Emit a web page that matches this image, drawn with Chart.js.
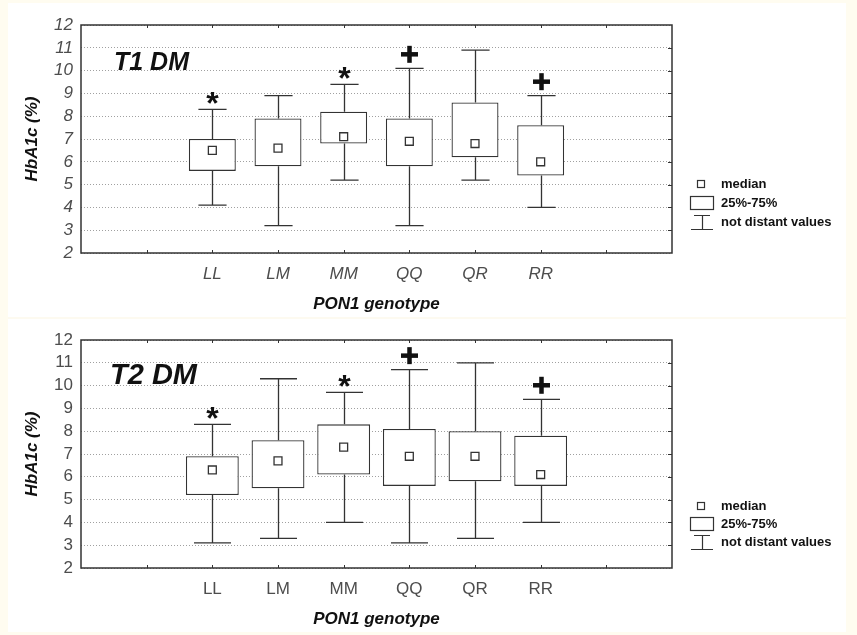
<!DOCTYPE html>
<html>
<head>
<meta charset="utf-8">
<script src="https://cdn.jsdelivr.net/npm/chart.js@4.4.1/dist/chart.umd.min.js"></script>
<style>
  html, body { margin: 0; padding: 0; background: #fffcf0; }
  #page { position: relative; width: 857px; height: 635px; overflow: hidden; }
  #sheet { position: absolute; left: 8px; top: 3px; width: 838px; height: 629px; background: #fff; }
  #sep { position: absolute; left: 8px; top: 317px; width: 838px; height: 2px; background: #fdfaf0; }
  canvas { position: absolute; left: 0; }
  #c1 { top: 0; }
  #c2 { top: 318px; }
</style>
</head>
<body>
<div id="page">
  <div id="sheet"></div>
  <div id="sep"></div>
  <canvas id="c1" width="857" height="318"></canvas>
  <canvas id="c2" width="857" height="317"></canvas>
</div>
<script>
const categories = ['LL', 'LM', 'MM', 'QQ', 'QR', 'RR'];
const yTicks = [2, 3, 4, 5, 6, 7, 8, 9, 10, 11, 12];
const markers = ['*', '', '*', '+', '', '+'];

// T1 DM
const t1Min = [4.1, 3.2, 5.2, 3.2, 5.2, 4.0];
const t1Q1 = [5.6, 5.8, 6.8, 5.8, 6.2, 5.4];
const t1Median = [6.5, 6.6, 7.1, 6.9, 6.8, 6.0];
const t1Q3 = [7.0, 7.9, 8.2, 7.9, 8.6, 7.6];
const t1Max = [8.3, 8.9, 9.4, 10.1, 10.9, 8.9];

// T2 DM
const t2Min = [3.1, 3.3, 4.0, 3.1, 3.3, 4.0];
const t2Q1 = [5.2, 5.5, 6.1, 5.6, 5.8, 5.6];
const t2Median = [6.3, 6.7, 7.3, 6.9, 6.9, 6.1];
const t2Q3 = [6.9, 7.6, 8.3, 8.1, 8.0, 7.8];
const t2Max = [8.3, 10.3, 9.7, 10.7, 11.0, 9.4];

const FONT = '"Liberation Sans", Arial, sans-serif';
const INK = '#333';
Chart.defaults.font.family = FONT;

function drawMarker(ctx, m, cx, yTop) {
  ctx.fillStyle = '#111';
  if (m === '*') {
    ctx.font = 'bold 32px ' + FONT;
    ctx.textAlign = 'center';
    ctx.textBaseline = 'alphabetic';
    const mt = ctx.measureText('*');
    const cy = yTop - 11;
    ctx.fillText('*', cx, cy + (mt.actualBoundingBoxAscent - mt.actualBoundingBoxDescent) / 2);
  } else if (m === '+') {
    const cy = yTop - 14;
    ctx.fillRect(cx - 8.5, cy - 2.25, 17, 4.5);
    ctx.fillRect(cx - 2.25, cy - 8.5, 4.5, 17);
  }
}

// whiskers, markers, frame, panel label and the legend
function makeExtras(p) {
  return {
    id: 'boxExtras',
    afterDatasetsDraw(chart) {
      const { ctx, scales: { x, y } } = chart;
      const bars = chart.getDatasetMeta(0).data;
      ctx.save();
      ctx.strokeStyle = INK;
      ctx.lineWidth = 1.3;
      categories.forEach((c, i) => {
        const idx = i + 2;
        const cx = Math.round(x.getPixelForValue(idx)) + 0.5;
        const half = bars[idx].width * p.capRatio / 2;
        const yMin = y.getPixelForValue(p.min[i]);
        const yQ1 = y.getPixelForValue(p.q1[i]);
        const yQ3 = y.getPixelForValue(p.q3[i]);
        const yMax = y.getPixelForValue(p.max[i]);
        ctx.beginPath();
        ctx.moveTo(cx, yQ3); ctx.lineTo(cx, yMax);
        ctx.moveTo(cx - half, yMax); ctx.lineTo(cx + half, yMax);
        ctx.moveTo(cx, yQ1); ctx.lineTo(cx, yMin);
        ctx.moveTo(cx - half, yMin); ctx.lineTo(cx + half, yMin);
        ctx.stroke();
        drawMarker(ctx, markers[i], cx, yMax);
      });
      ctx.restore();
    },
    afterDraw(chart) {
      const { ctx, chartArea: a, scales: { x, y } } = chart;
      ctx.save();
      ctx.strokeStyle = INK;
      ctx.lineWidth = 1.5;
      ctx.strokeRect(a.left, a.top, a.width, a.height);

      // small inward ticks
      ctx.lineWidth = 1;
      ctx.beginPath();
      for (let i = 1; i < categories.length + 3; i++) {
        const px = Math.round(x.getPixelForValue(i)) + 0.5;
        ctx.moveTo(px, a.top); ctx.lineTo(px, a.top + 3);
        ctx.moveTo(px, a.bottom); ctx.lineTo(px, a.bottom - 3);
      }
      yTicks.slice(1, -1).forEach(v => {
        const py = Math.round(y.getPixelForValue(v)) + 0.5;
        ctx.moveTo(a.right, py); ctx.lineTo(a.right - 4, py);
      });
      ctx.stroke();

      // panel label
      ctx.fillStyle = '#111';
      ctx.font = 'italic bold ' + p.labelSize + 'px ' + FONT;
      ctx.textAlign = 'left';
      ctx.textBaseline = 'alphabetic';
      ctx.fillText(p.label, a.left + p.labelDx, a.top + p.labelDy);

      // legend
      const lx = a.right;
      const ly = a.top + p.legendDy;
      const s = p.legendStep;
      ctx.strokeStyle = INK;
      ctx.lineWidth = 1.2;
      ctx.strokeRect(lx + 25.5, ly - 3.5, 7, 7);
      ctx.strokeRect(lx + 18.5, ly + s - 6.5, 23, 13);
      ctx.beginPath();
      ctx.moveTo(lx + 22, ly + 2 * s - 6.5); ctx.lineTo(lx + 38, ly + 2 * s - 6.5);
      ctx.moveTo(lx + 30.5, ly + 2 * s - 6.5); ctx.lineTo(lx + 30.5, ly + 2 * s + 7.5);
      ctx.moveTo(lx + 19, ly + 2 * s + 7.5); ctx.lineTo(lx + 41, ly + 2 * s + 7.5);
      ctx.stroke();
      ctx.font = 'bold 13px ' + FONT;
      ctx.textBaseline = 'middle';
      ctx.fillText('median', lx + 49, ly);
      ctx.fillText('25%-75%', lx + 49, ly + s);
      ctx.fillText('not distant values', lx + 49, ly + 2 * s);
      ctx.restore();
    }
  };
}

function buildPanel(canvasId, p) {
  const pad = [null, null];
  const boxes = [...pad, ...p.q1.map((v, i) => [v, p.q3[i]]), ...pad];
  const medians = [...pad, ...p.median, ...pad];
  const tickStyle = p.italic ? 'italic' : 'normal';
  return new Chart(document.getElementById(canvasId), {
    type: 'bar',
    data: {
      labels: ['', '', ...categories, '', ''],
      datasets: [
        {
          type: 'bar',
          data: boxes,
          backgroundColor: '#fff',
          borderColor: INK,
          borderWidth: 1.3,
          borderSkipped: false,
          barPercentage: p.barPct,
          categoryPercentage: 1,
          order: 1,
        },
        {
          type: 'line',
          data: medians,
          showLine: false,
          pointStyle: 'rect',
          pointRadius: 5.6,
          pointBackgroundColor: '#fff',
          pointBorderColor: INK,
          pointBorderWidth: 1.3,
          order: 0,
        },
      ],
    },
    options: {
      responsive: false,
      animation: false,
      events: [],
      layout: { padding: { top: p.padTop, right: 185, left: 0, bottom: 0 } },
      plugins: { legend: { display: false }, tooltip: { enabled: false } },
      scales: {
        x: {
          type: 'category',
          offset: false,
          grid: { display: false, drawTicks: false, offset: false },
          border: { display: false },
          ticks: {
            color: '#4d4d4d',
            autoSkip: false,
            maxRotation: 0,
            padding: 11,
            font: { size: 17, style: tickStyle },
          },
          title: {
            display: true,
            text: 'PON1 genotype',
            color: '#111',
            padding: { top: 0, bottom: p.xTitlePad },
            font: { size: 17, weight: 'bold', style: 'italic' },
          },
          afterFit(scale) { scale.height = p.xAxisH; },
        },
        y: {
          min: yTicks[0],
          max: yTicks[yTicks.length - 1],
          afterBuildTicks(scale) { scale.ticks = yTicks.map(v => ({ value: v })); },
          grid: { color: '#a0a0a0', lineWidth: 1, drawTicks: false },
          border: { display: false, dash: [1, 2] },
          ticks: {
            color: '#4d4d4d',
            stepSize: 1,
            autoSkip: false,
            padding: 8,
            font: { size: 17, style: tickStyle },
          },
          title: {
            display: true,
            text: 'HbA1c (%)',
            color: '#111',
            padding: { top: 22, bottom: 0 },
            font: { size: 17, weight: 'bold', style: 'italic' },
          },
          afterFit(scale) { scale.width = 81; },
        },
      },
    },
    plugins: [makeExtras(p)],
  });
}

buildPanel('c1', {
  min: t1Min, q1: t1Q1, median: t1Median, q3: t1Q3, max: t1Max,
  italic: true, label: 'T1 DM', labelSize: 25, labelDx: 33, labelDy: 45,
  barPct: 0.715, capRatio: 0.6, padTop: 25, xAxisH: 65, xTitlePad: 3,
  legendDy: 159, legendStep: 19,
});

buildPanel('c2', {
  min: t2Min, q1: t2Q1, median: t2Median, q3: t2Q3, max: t2Max,
  italic: false, label: 'T2 DM', labelSize: 29, labelDx: 29, labelDy: 44,
  barPct: 0.805, capRatio: 0.7, padTop: 22, xAxisH: 67, xTitlePad: 5,
  legendDy: 166, legendStep: 18,
});
</script>
</body>
</html>
